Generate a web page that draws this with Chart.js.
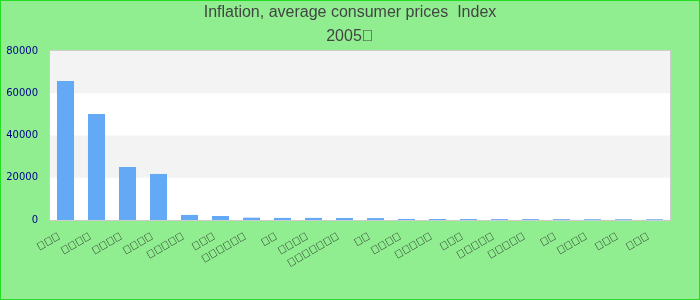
<!DOCTYPE html>
<html><head><meta charset="utf-8">
<script src="https://cdn.jsdelivr.net/npm/chart.js@4.4.0/dist/chart.umd.min.js"></script>
<style>html,body{margin:0;padding:0;background:#90EE90}canvas{display:block}</style>
</head><body>
<canvas id="c" width="700" height="300"></canvas>
<script>
// Category labels: glyphs in the reference render as missing-glyph boxes
const categories = [
  '\u{F0000}\u{F0000}\u{F0000}',
  '\u{F0000}\u{F0000}\u{F0000}\u{F0000}',
  '\u{F0000}\u{F0000}\u{F0000}\u{F0000}',
  '\u{F0000}\u{F0000}\u{F0000}\u{F0000}',
  '\u{F0000}\u{F0000}\u{F0000}\u{F0000}\u{F0000}',
  '\u{F0000}\u{F0000}\u{F0000}',
  '\u{F0000}\u{F0000}\u{F0000}\u{F0000}\u{F0000}\u{F0000}',
  '\u{F0000}\u{F0000}',
  '\u{F0000}\u{F0000}\u{F0000}\u{F0000}',
  '\u{F0000}\u{F0000}\u{F0000}\u{F0000}\u{F0000}\u{F0000}\u{F0000}',
  '\u{F0000}\u{F0000}',
  '\u{F0000}\u{F0000}\u{F0000}\u{F0000}',
  '\u{F0000}\u{F0000}\u{F0000}\u{F0000}\u{F0000}',
  '\u{F0000}\u{F0000}\u{F0000}',
  '\u{F0000}\u{F0000}\u{F0000}\u{F0000}\u{F0000}',
  '\u{F0000}\u{F0000}\u{F0000}\u{F0000}\u{F0000}',
  '\u{F0000}\u{F0000}',
  '\u{F0000}\u{F0000}\u{F0000}\u{F0000}',
  '\u{F0000}\u{F0000}\u{F0000}',
  '\u{F0000}\u{F0000}\u{F0000}'
];
const values = [65800, 50200, 25100, 21800, 2400, 1900, 1100, 1000, 1000, 950, 900, 500, 480, 450, 430, 420, 400, 380, 360, 350];
const titleLines = ['Inflation, average consumer prices  Index', '2005\u{F0000}'];
const yTicks = [0, 20000, 40000, 60000, 80000];

const decor = {
  id: 'decor',
  beforeDraw(chart) {
    const ctx = chart.ctx, a = chart.chartArea, y = chart.scales.y;
    ctx.save();
    ctx.fillStyle = '#90EE90';
    ctx.fillRect(0, 0, chart.width, chart.height);
    ctx.strokeStyle = '#22DD22';
    ctx.lineWidth = 1;
    ctx.strokeRect(0.5, 0.5, chart.width - 1, chart.height - 1);
    ctx.fillStyle = '#ffffff';
    ctx.fillRect(a.left, a.top, a.right - a.left, a.bottom - a.top);
    ctx.fillStyle = '#F3F3F3';
    for (let i = 0; i < yTicks.length - 1; i++) {
      if (i % 2 === 1) {
        const t = y.getPixelForValue(yTicks[i + 1]);
        const b = y.getPixelForValue(yTicks[i]);
        ctx.fillRect(a.left, t, a.right - a.left, b - t);
      }
    }
    ctx.strokeStyle = '#CCCCCC';
    ctx.strokeRect(a.left - 0.5, a.top - 0.5, a.right - a.left + 1, a.bottom - a.top + 1);
    ctx.restore();
  }
};

new Chart(document.getElementById('c'), {
  type: 'bar',
  data: {
    labels: categories,
    datasets: [{
      data: values,
      backgroundColor: '#63A9F5',
      barPercentage: 0.55,
      categoryPercentage: 1.0
    }]
  },
  options: {
    responsive: false,
    animation: false,
    devicePixelRatio: 1,
    layout: { padding: 0 },
    plugins: {
      legend: { display: false },
      tooltip: { enabled: false },
      title: {
        display: true,
        text: titleLines,
        color: '#444444',
        font: { family: 'Liberation Sans', size: 16, weight: 'normal', lineHeight: 1.5 },
        padding: { top: 1, bottom: 2 }
      }
    },
    scales: {
      x: {
        grid: { display: false, drawTicks: false },
        border: { display: false },
        ticks: {
          color: '#222222',
          font: { family: 'Liberation Sans', size: 11 },
          minRotation: 30, maxRotation: 30,
          autoSkip: false,
          padding: 10,
          labelOffset: -6
        },
        afterFit(s) { s.height = 80; }
      },
      y: {
        min: 0, max: 80000,
        grid: { display: false, drawTicks: false },
        border: { display: false },
        ticks: {
          stepSize: 20000,
          color: '#00008B',
          font: { family: 'DejaVu Sans', size: 10 },
          padding: 12,
          callback: (v) => String(v)
        },
        afterFit(s) { s.width = 50; }
      },
      yRight: {
        position: 'right',
        display: true,
        grid: { display: false, drawTicks: false },
        border: { display: false },
        ticks: { display: false },
        afterFit(s) { s.width = 30; }
      }
    }
  },
  plugins: [decor]
});
</script>
</body></html>
